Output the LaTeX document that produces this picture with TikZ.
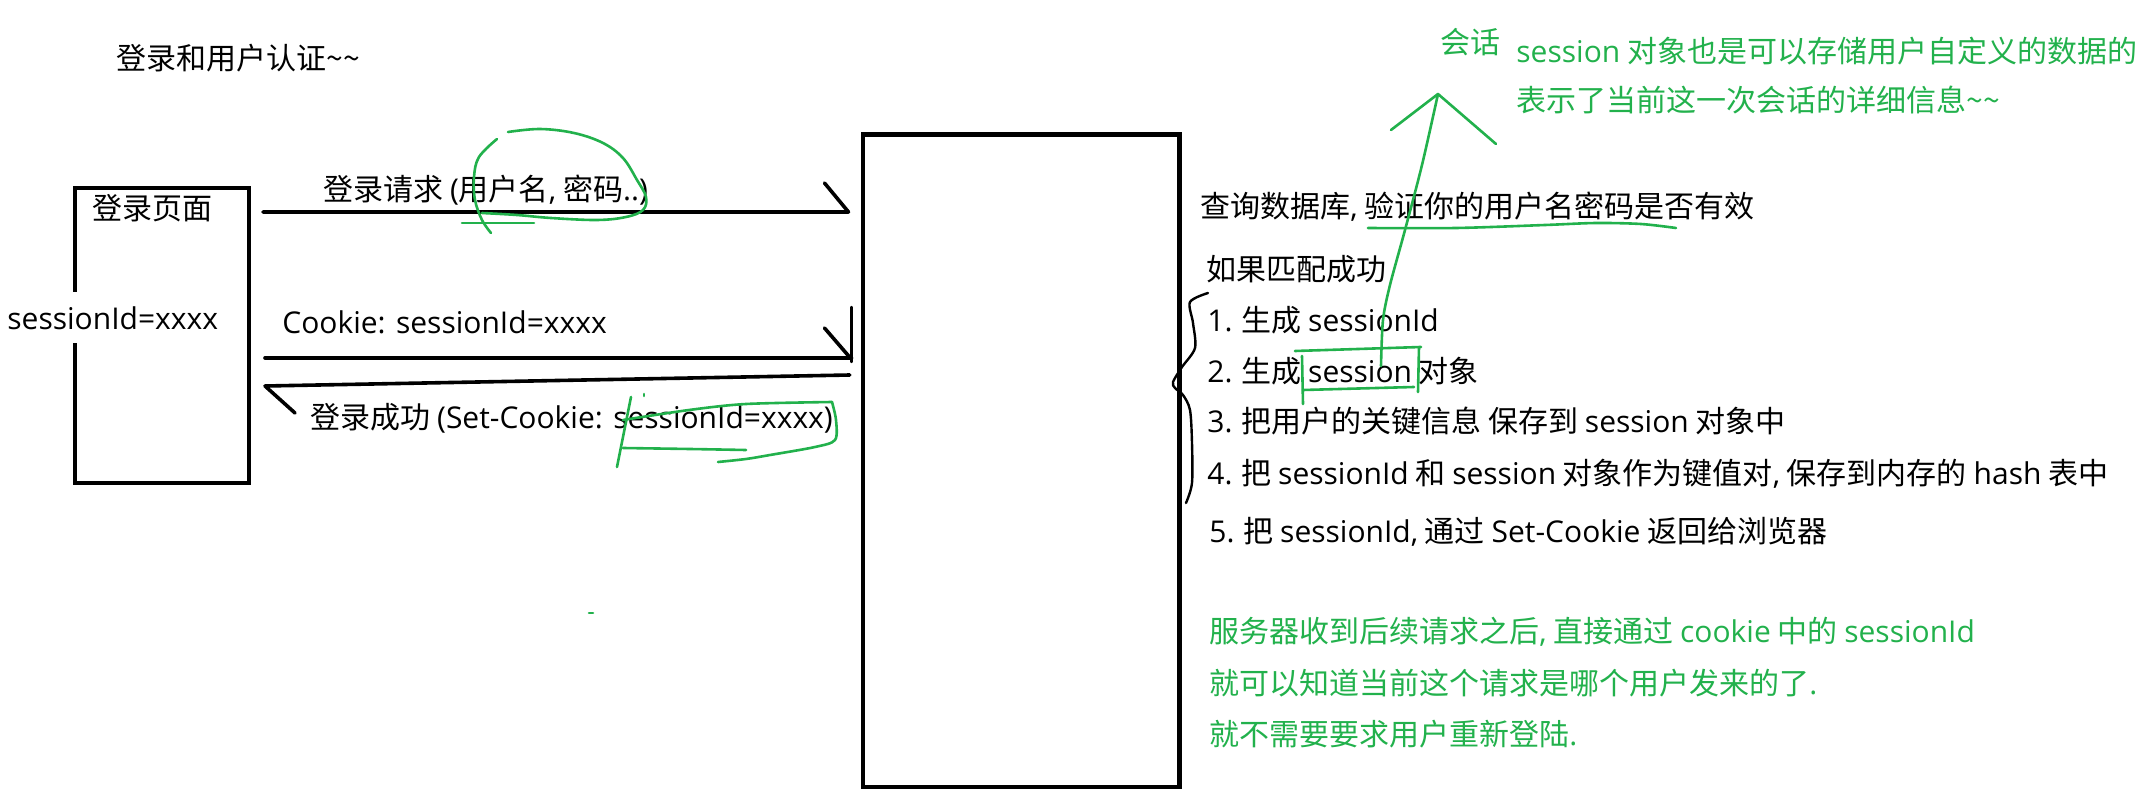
\documentclass[tikz,border=0pt]{standalone}
\usepackage{fontspec}
\setmainfont{Noto Sans CJK SC}
\newfontfamily\latn{Open Sans}
\usetikzlibrary{calc}
\definecolor{pgreen}{RGB}{34,177,76}
\tikzset{
  fs/.style={font=\fontsize{15pt}{18pt}\selectfont},
  txt/.style={anchor=base west, inner sep=0pt, fs},
  gtxt/.style={txt, text=pgreen},
  box/.style={draw, line width=2pt, rectangle, inner sep=0pt},
  blk/.style={line width=1.8pt, line cap=round, line join=round},
  grn/.style={draw=pgreen, line width=1.3pt, line cap=round, line join=round},
  bracestroke/.style={line width=1.2pt, line cap=round, line join=round},
}
\begin{document}
\begin{tikzpicture}[x=0.5pt,y=-0.5pt]
\useasboundingbox (0,0) rectangle (2149,808);

% boxes
\node[box, minimum width=86.75pt, minimum height=147.8pt] (login) at (161.75,335.5) {};
\node[box, line width=2.2pt, minimum width=158.4pt, minimum height=326.25pt] (server) at (1021.1,460.75) {};

% left texts
\node[txt] (title) at (116,70) {登录和用户认证\textasciitilde\textasciitilde};
\node[txt] (page) at (92,220) {登录页面};
\node[txt, fill=white, inner ysep=7pt] (sid) at (7,329) {\latn sessionId=xxxx};

% arrows
\coordinate (a1s) at ($(login.east |- 0,212)+(12.5,0)$);
\coordinate (a1e) at ($(server.west |- 0,212)+(-12,0)$);
\draw[blk] (a1s) -- (a1e) -- ++(-24,-29);

\coordinate (a2s) at ($(login.east |- 0,358)+(14.5,0)$);
\coordinate (a2e) at ($(server.west |- 0,358)+(-9,0)$);
\draw[blk] (a2s) -- (a2e);
\draw[blk] ($(a2e)+(-2,-1)$) -- ++(-25,-29);
\draw[blk, line width=1.2pt] ($(server.west |- 0,307)+(-9,0)$) -- ++(0,55);

\coordinate (a3s) at ($(server.west |- 0,375)+(-10.7,0)$);
\coordinate (a3e) at ($(login.east |- 0,386)+(14.5,0)$);
\draw[blk] (a3s) -- (a3e) -- ++(30,27);

% arrow labels
\node[txt] (l1) at (323,200) {登录请求 {\latn (}用户名{\latn ,} 密码{\latn ..)}};
\node[txt] (l2) at (282,333) {\latn Cookie: sessionId=xxxx};
\node[txt] (l3) at (310,428) {登录成功 {\latn (Set-Cookie: sessionId=xxxx)}};

% right texts
\node[txt] (q) at (1200,218) {查询数据库{\latn ,} 验证你的用户名密码是否有效};
\node[txt] (m) at (1206,280) {如果匹配成功};
\node[txt] (s1) at (1207,331) {{\latn 1.} 生成 {\latn sessionId}};
\node[txt] (s2) at (1207,382) {{\latn 2.} 生成 {\latn session} 对象};
\node[txt] (s3) at (1207,432) {{\latn 3.} 把用户的关键信息 保存到 {\latn session} 对象中};
\node[txt] (s4) at (1207,484) {{\latn 4.} 把 {\latn sessionId} 和 {\latn session} 对象作为键值对{\latn ,} 保存到内存的 {\latn hash} 表中};
\node[txt] (s5) at (1209,542) {{\latn 5.} 把 {\latn sessionId,} 通过 {\latn Set-Cookie} 返回给浏览器};

% green texts
\node[gtxt] (hh) at (1440,54) {会话};
\node[gtxt] (g1) at (1516,63) {{\latn session} 对象也是可以存储用户自定义的数据的};
\node[gtxt] (g2) at (1516,112) {表示了当前这一次会话的详细信息\textasciitilde\textasciitilde};
\node[gtxt] (g3) at (1209,642) {服务器收到后续请求之后{\latn ,} 直接通过 {\latn cookie} 中的 {\latn sessionId}};
\node[gtxt] (g4) at (1209,694) {就可以知道当前这个请求是哪个用户发来的了{\latn .}};
\node[gtxt] (g5) at (1209,745) {就不需要要求用户重新登陆{\latn .}};

% green annotations
\draw[grn] plot[smooth, tension=0.6] coordinates {(497,139) (479,157) (474,177) (475,200) (482,220) (491,233)};
\draw[grn] plot[smooth, tension=0.6] coordinates {(508,132) (540,129) (574,133) (603,143) (623,158) (637,180) (646,197) (643,210) (626,217) (597,220) (551,218) (517,215) (482,213)};
\draw[grn] (462,223) -- (534,223);

\draw[grn] (631,397) -- (617,467);
\draw[grn] plot[smooth] coordinates {(623,420) (689,410) (746,404) (832,402)};
\draw[grn] plot[smooth] coordinates {(832,402) (836,420) (835,440) (815,447) (770,455) (746,459) (718,462)};
\draw[grn] plot[smooth] coordinates {(623,448) (690,449) (746,450)};
\draw[grn] (644,394) -- (644,396);
\draw[grn] (589,613) -- (593,613);

\draw[grn] plot[smooth] coordinates {(1368,228) (1456,228) (1545,225) (1596,223) (1641,224) (1676,228)};

\draw[grn] plot[smooth] coordinates {(1381,366) (1383,320) (1390,285) (1405,230) (1422,165) (1438,94)};
\draw[grn] (1391,130) -- (1438,94) -- (1496,144);

\draw[grn] (1295,351) -- (1421,347);
\draw[grn] (1302,356) -- (1303,404);
\draw[grn] (1303,390) -- (1414,387);
\draw[grn] (1419,347) -- (1418,392);

% brace
\draw[bracestroke] plot[smooth, tension=0.5] coordinates {(1208,293) (1190,302) (1193,323) (1195,348) (1182,367) (1173,382) (1175,388) (1183,395) (1190,410) (1192,443) (1192,483) (1186,503)};
\end{tikzpicture}
\end{document}
